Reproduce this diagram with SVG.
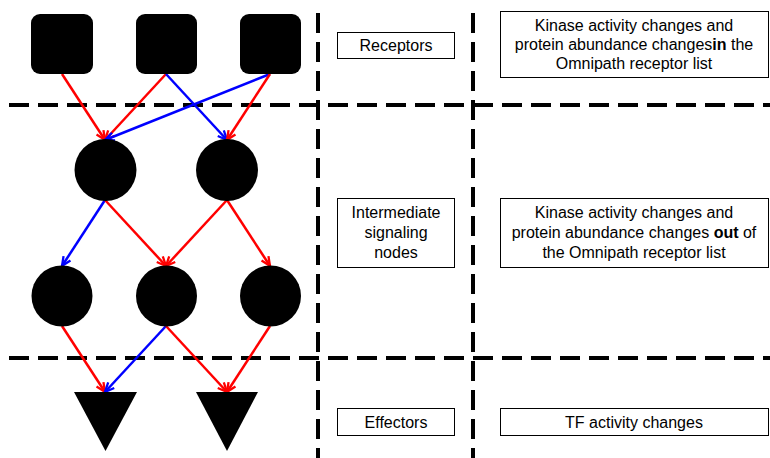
<svg xmlns="http://www.w3.org/2000/svg" width="770" height="458" viewBox="0 0 770 458">
<style>
.dash{stroke:#000;stroke-width:4;stroke-dasharray:20 9;fill:none}
.node{fill:#000}
.r{stroke:#ff0000;stroke-width:2.5;fill:none;marker-end:url(#ar)}
.b{stroke:#0000ff;stroke-width:2.5;fill:none;marker-end:url(#ab)}
.box{fill:#fff;stroke:#000;stroke-width:1}
text{font-family:"Liberation Sans",Arial,sans-serif;font-size:16px;fill:#000;text-anchor:middle}
</style>
<defs>
<marker id="ar" viewBox="0 0 12 12" refX="11" refY="6" markerWidth="11" markerHeight="11" markerUnits="userSpaceOnUse" orient="auto"><path d="M1,1.5 L11,6 L1,10.5" fill="none" stroke="#ff0000" stroke-width="2.5"/></marker>
<marker id="ab" viewBox="0 0 12 12" refX="11" refY="6" markerWidth="11" markerHeight="11" markerUnits="userSpaceOnUse" orient="auto"><path d="M1,1.5 L11,6 L1,10.5" fill="none" stroke="#0000ff" stroke-width="2.5"/></marker>
</defs>
<g id="dividers">
<line class="dash" x1="9" y1="105" x2="770" y2="105"/>
<line class="dash" x1="9" y1="358" x2="770" y2="358"/>
<line class="dash" x1="318" y1="13" x2="318" y2="458"/>
<line class="dash" x1="473" y1="13" x2="473" y2="458"/>
</g>
<g id="connectors">
<line class="r" x1="62" y1="74" x2="105" y2="140"/>
<line class="r" x1="166" y1="74" x2="105" y2="140"/>
<line class="b" x1="166" y1="74" x2="227" y2="140"/>
<line class="b" x1="270" y1="74" x2="105" y2="140"/>
<line class="r" x1="270" y1="74" x2="227" y2="140"/>
<line class="b" x1="105" y1="200" x2="62" y2="266"/>
<line class="r" x1="105" y1="200" x2="166" y2="266"/>
<line class="r" x1="227" y1="200" x2="166" y2="266"/>
<line class="r" x1="227" y1="200" x2="270" y2="266"/>
<line class="r" x1="62" y1="326" x2="105" y2="392"/>
<line class="b" x1="166" y1="326" x2="105" y2="392"/>
<line class="r" x1="166" y1="326" x2="227" y2="392"/>
<line class="r" x1="270" y1="326" x2="227" y2="392"/>
</g>
<g id="rec1"><rect class="node" x="31" y="14" width="62" height="60" rx="9"/></g>
<g id="rec2"><rect class="node" x="136" y="14" width="61" height="60" rx="9"/></g>
<g id="rec3"><rect class="node" x="240" y="14" width="61" height="60" rx="9"/></g>
<g id="int1"><circle class="node" cx="105.5" cy="170" r="31"/></g>
<g id="int2"><circle class="node" cx="227" cy="170" r="31"/></g>
<g id="int3"><circle class="node" cx="62" cy="296" r="30.5"/></g>
<g id="int4"><circle class="node" cx="166.5" cy="296" r="30.5"/></g>
<g id="int5"><circle class="node" cx="270.5" cy="296" r="30.5"/></g>
<g id="eff1"><polygon class="node" points="74,392 137,392 105.5,451"/></g>
<g id="eff2"><polygon class="node" points="196,392 258,392 227,451"/></g>
<g id="lbl-receptors"><rect class="box" x="337.5" y="32.5" width="117" height="26"/><text x="396" y="51">Receptors</text></g>
<g id="lbl-intermediate"><rect class="box" x="337.5" y="198.5" width="117" height="69"/><text x="396" y="218">Intermediate</text><text x="396" y="238">signaling</text><text x="396" y="258">nodes</text></g>
<g id="lbl-effectors"><rect class="box" x="337.5" y="408.5" width="117" height="27"/><text x="396" y="428">Effectors</text></g>
<g id="desc-receptors"><rect class="box" x="500.5" y="11.5" width="268" height="66"/><text x="634" y="31">Kinase activity changes and</text><text x="634" y="50">protein abundance changes<tspan font-weight="bold">in</tspan> the</text><text x="634" y="69">Omnipath receptor list</text></g>
<g id="desc-intermediate"><rect class="box" x="500.5" y="198.5" width="268" height="69"/><text x="634" y="218">Kinase activity changes and</text><text x="634" y="238">protein abundance changes <tspan font-weight="bold">out</tspan> of</text><text x="634" y="258">the Omnipath receptor list</text></g>
<g id="desc-effectors"><rect class="box" x="500.5" y="408.5" width="268" height="27"/><text x="634" y="428">TF activity changes</text></g>
</svg>
